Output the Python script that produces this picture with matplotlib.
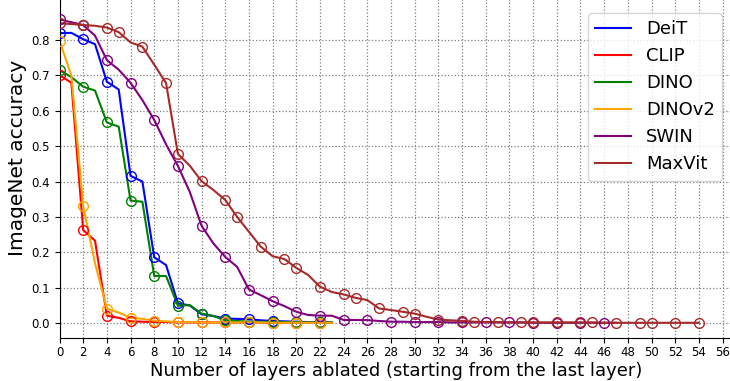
import numpy as np
import matplotlib
matplotlib.use("Agg")
import matplotlib.pyplot as plt

names = ["DeiT", "CLIP", "DINO", "DINOv2", "SWIN", "MaxVit"]
colors = ["blue", "red", "green", "orange", "purple", "brown"]

deit = [0.819, 0.82, 0.802, 0.788, 0.682, 0.660, 0.416, 0.400, 0.186, 0.164, 0.056, 0.050,
        0.025, 0.020, 0.013, 0.012, 0.011, 0.008, 0.006, 0.005, 0.004, 0.003, 0.003, 0.002]
clip = [0.701, 0.679, 0.263, 0.233, 0.021, 0.015, 0.005, 0.004, 0.003, 0.003, 0.002, 0.002,
        0.002, 0.002, 0.002, 0.002, 0.002, 0.002, 0.001, 0.001, 0.001, 0.001, 0.001, 0.001]
dino = [0.715, 0.695, 0.668, 0.657, 0.567, 0.555, 0.346, 0.343, 0.133, 0.133, 0.049, 0.051,
        0.027, 0.020, 0.008, 0.006, 0.004, 0.004, 0.003, 0.003, 0.003, 0.002, 0.002, 0.002]
dinov2 = [0.798, 0.700, 0.331, 0.169, 0.041, 0.030, 0.015, 0.012, 0.007, 0.005, 0.003, 0.003,
          0.002, 0.002, 0.002, 0.002, 0.002, 0.002, 0.001, 0.001, 0.001, 0.001, 0.001, 0.001]
swin = [0.858, 0.850, 0.842, 0.812, 0.743, 0.716, 0.679, 0.630, 0.574, 0.505, 0.444, 0.371,
        0.275, 0.225, 0.187, 0.159, 0.095, 0.079, 0.062, 0.048, 0.032, 0.023, 0.021, 0.021,
        0.009, 0.009, 0.0085, 0.006, 0.004, 0.004, 0.003, 0.003, 0.003, 0.002, 0.002, 0.002,
        0.002, 0.002, 0.002, 0.002, 0.001, 0.001, 0.001, 0.001, 0.001, 0.001, 0.001, 0.001]
maxvit = [0.847, 0.845, 0.842, 0.840, 0.835, 0.822, 0.793, 0.781, 0.730, 0.678, 0.478, 0.445,
          0.401, 0.376, 0.348, 0.300, 0.258, 0.216, 0.189, 0.181, 0.156, 0.136, 0.103, 0.088,
          0.081, 0.0715, 0.065, 0.0415, 0.037, 0.032, 0.027, 0.018, 0.010, 0.008, 0.0065, 0.004,
          0.003, 0.003, 0.002, 0.002, 0.002, 0.002, 0.002, 0.002, 0.002, 0.002, 0.001, 0.001,
          0.001, 0.001, 0.001, 0.001, 0.001, 0.001, 0.001]

even_marks_24 = list(range(0, 24, 2))
swin_marks = list(range(0, 48, 2))
maxvit_marks = [0, 2, 4, 5, 7, 9, 10, 12, 14, 15, 17, 19, 20, 22, 24, 25, 27, 29, 30, 32, 34,
                35, 37, 39, 40, 42, 44, 45, 47, 49, 50, 52, 54]

series = [deit, clip, dino, dinov2, swin, maxvit]
marks = [even_marks_24, even_marks_24, even_marks_24, even_marks_24, swin_marks, maxvit_marks]

fig = plt.figure(figsize=(7.30, 3.81), dpi=100)
W, H = 730, 381
# axes placed so that the top and right edges fall outside the figure (cropped look)
x0, x1 = 0, 57
y0, y1 = -0.042, 0.92
pxx = 11.84
pxy = 354.0
left = 59.5 / W
bottom = (H - 338) / H
ax = fig.add_axes([left, bottom, (x1 - x0) * pxx / W, (y1 - y0) * pxy / H])

for name, col, vals, mk in zip(names, colors, series, marks):
    xs = np.arange(len(vals))
    ax.plot(xs, vals, color=col, lw=1.5, label=name, zorder=2)
    ax.plot(xs, vals, color=col, lw=0, marker="o", markersize=7, markerfacecolor="none",
            markeredgecolor=col, markeredgewidth=1.0, markevery=mk, zorder=3)

ax.set_xlim(x0, x1)
ax.set_ylim(y0, y1)
ax.set_xticks(np.arange(0, 57, 2))
ax.set_yticks(np.round(np.arange(0, 0.81, 0.1), 1))
ax.tick_params(labelsize=8.5)
ax.tick_params(axis="x", pad=2.5)
ax.grid(True, linestyle=":", color="gray", lw=0.9)
ax.set_xlabel("Number of layers ablated (starting from the last layer)", fontsize=13)
ax.set_ylabel("ImageNet accuracy", fontsize=14.5)
# label centres (figure pixels from top-left)
ax.xaxis.set_label_coords(396 / W, 1 - 371 / H, transform=fig.transFigure)
ax.yaxis.set_label_coords(18 / W, 1 - 158 / H, transform=fig.transFigure)
ax.xaxis.label.set_va("center")
ax.yaxis.label.set_va("center")
leg = ax.legend(loc="upper left", bbox_to_anchor=(588 / W, 1 - 13 / H), bbox_transform=fig.transFigure,
                fontsize=13, borderaxespad=0)
for s in ["top", "right"]:
    ax.spines[s].set_visible(False)

fig.savefig("out.png", dpi=100)
